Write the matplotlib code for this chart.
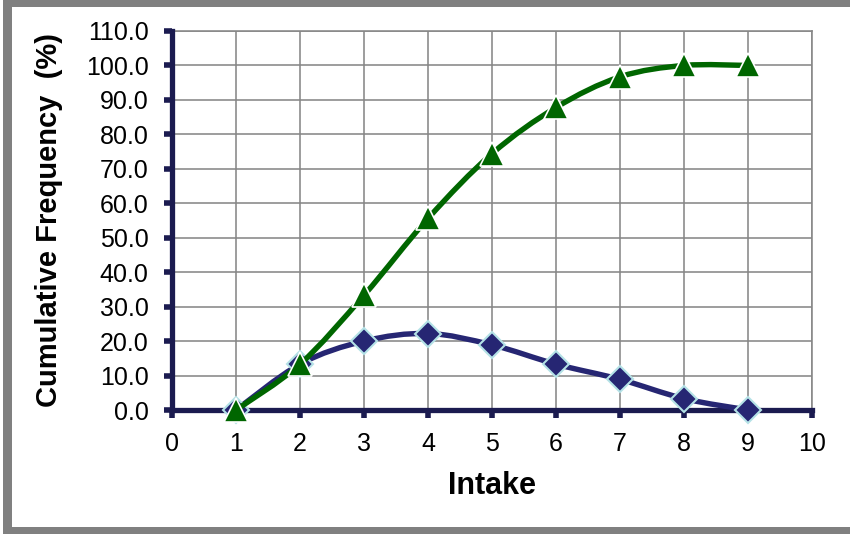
import numpy as np
import matplotlib
matplotlib.use("Agg")
import matplotlib.pyplot as plt
from matplotlib.path import Path
from matplotlib.patches import PathPatch, Rectangle

# ---- data ----
intake = [1, 2, 3, 4, 5, 6, 7, 8, 9]
cumulative = [0.0, 13.3, 33.3, 55.6, 74.4, 87.8, 96.7, 100.0, 100.0]
frequency = [0.0, 13.3, 20.0, 22.2, 18.9, 13.3, 8.9, 3.3, 0.0]
x_ticks = [0, 1, 2, 3, 4, 5, 6, 7, 8, 9, 10]
y_ticks = [0, 10, 20, 30, 40, 50, 60, 70, 80, 90, 100, 110]
x_label = "Intake"
y_label = "Cumulative Frequency  (%)"

plt.rcParams["font.family"] = ["Liberation Sans", "DejaVu Sans"]

AXIS_C = "#1b1b50"
GRID_C = "#878787"
BLUE = "#262673"
BLUE_EDGE = "#b4e2e6"
GREEN = "#006600"


def smooth_path(xs, ys):
    pts = np.column_stack([xs, ys]).astype(float)
    n = len(pts)
    verts = [pts[0]]
    codes = [Path.MOVETO]
    for i in range(n - 1):
        p0 = pts[i - 1] if i > 0 else pts[i]
        p1 = pts[i]
        p2 = pts[i + 1]
        p3 = pts[i + 2] if i + 2 < n else pts[i + 1]
        c1 = p1 + (p2 - p0) / 6.0
        c2 = p2 - (p3 - p1) / 6.0
        verts += [c1, c2, p2]
        codes += [Path.CURVE4] * 3
    return Path(verts, codes)


fig = plt.figure(figsize=(8.5, 5.34), dpi=100)
W, H = 850, 534
ax = fig.add_axes([172 / W, 1 - 410 / H, (812 - 172) / W, (410 - 31) / H])

ax.set_xlim(0, 10)
ax.set_ylim(0, 110)
ax.set_xticks(x_ticks)
ax.set_yticks(y_ticks)
ax.set_xticklabels([str(t) for t in x_ticks])
ax.set_yticklabels([f"{t:.1f}" for t in y_ticks])

ax.grid(True, color=GRID_C, lw=1.15)
ax.set_axisbelow(True)

for s in ("top", "right"):
    ax.spines[s].set_color(GRID_C)
    ax.spines[s].set_linewidth(1.15)
for s in ("left", "bottom"):
    ax.spines[s].set_color(AXIS_C)
    ax.spines[s].set_linewidth(3.8)
    ax.spines[s].set_zorder(3)

ax.tick_params(axis="both", direction="out", length=5.5, width=4,
               color=AXIS_C, labelsize=18, labelcolor="black")
ax.tick_params(axis="y", pad=11.5)
ax.tick_params(axis="x", pad=10)

# smoothed lines
blue_patch = PathPatch(smooth_path(intake, frequency), fill=False,
                       edgecolor=BLUE, lw=3.9, capstyle="round",
                       joinstyle="round", zorder=4, clip_on=False)
ax.add_patch(blue_patch)
ax.plot(intake, frequency, linestyle="none", marker="D", ms=12.8,
        mfc=BLUE, mec=BLUE_EDGE, mew=1.5, zorder=5, clip_on=False)

green_patch = PathPatch(smooth_path(intake, cumulative), fill=False,
                        edgecolor=GREEN, lw=3.9, capstyle="round",
                        joinstyle="round", zorder=6, clip_on=False)
ax.add_patch(green_patch)
ax.plot(intake, cumulative, linestyle="none", marker="^", ms=17.2,
        mfc=GREEN, mec="white", mew=1.2, zorder=7, clip_on=False)

# axis titles
fig.text(492 / W, 1 - 494 / H, x_label, fontsize=22, fontweight="bold",
         ha="center", va="baseline")
fig.text(57 / W, 1 - 220 / H, y_label, fontsize=21, fontweight="bold",
         rotation=90, rotation_mode="anchor", ha="center", va="baseline")

# outer frame (gray border)
FRAME_C = "#808080"
fig.add_artist(Rectangle((3 / W, 0), 9 / W, 1, transform=fig.transFigure,
                         facecolor=FRAME_C, edgecolor="none"))
fig.add_artist(Rectangle((3 / W, 1 - 7 / H), 1, 7 / H, transform=fig.transFigure,
                         facecolor=FRAME_C, edgecolor="none"))
fig.add_artist(Rectangle((3 / W, 0), 1, 7 / H, transform=fig.transFigure,
                         facecolor=FRAME_C, edgecolor="none"))

fig.savefig("out.png", dpi=100)
